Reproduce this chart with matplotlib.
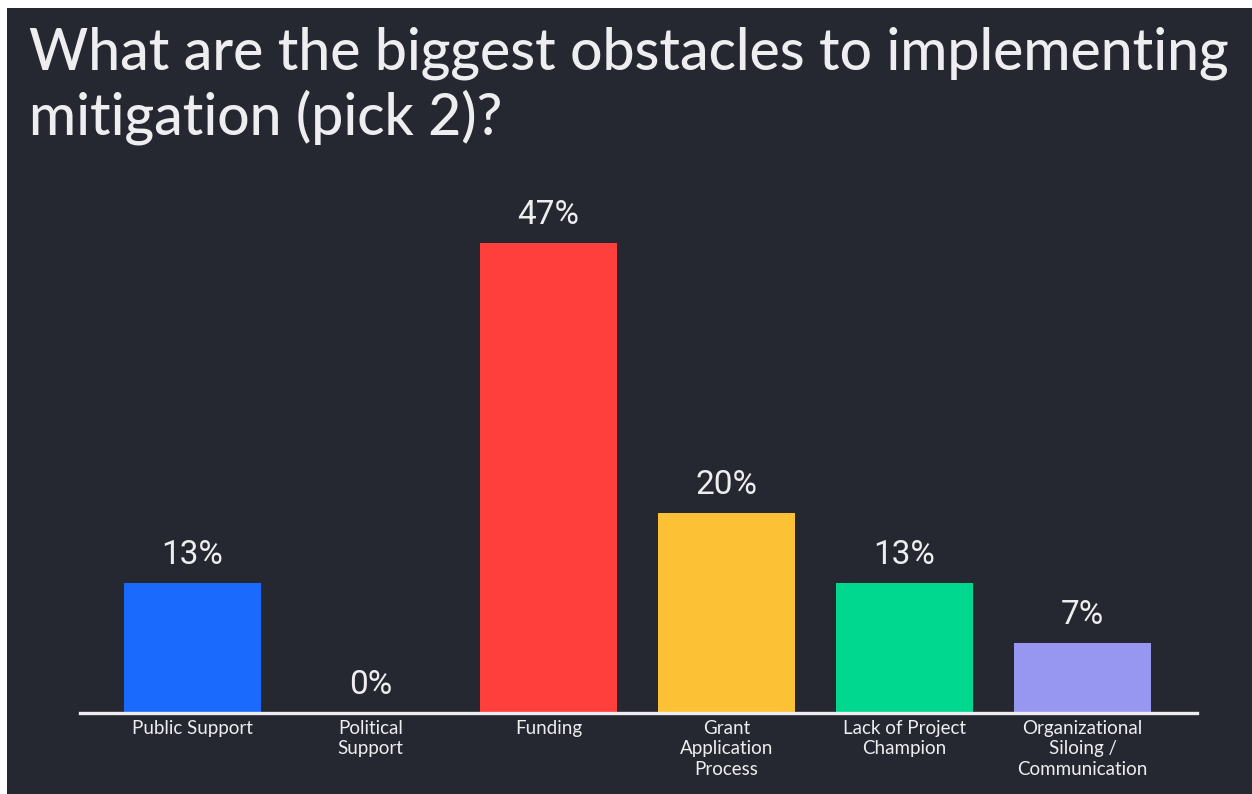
import matplotlib.pyplot as plt
from matplotlib.patches import Rectangle

categories = ["Public Support", "Political\nSupport", "Funding",
              "Grant\nApplication\nProcess", "Lack of Project\nChampion",
              "Organizational\nSiloing /\nCommunication"]
shares = [13, 0, 47, 20, 13, 7]
bar_colors = ["#1a6afe", "#1a6afe", "#ff3f3b", "#fdc136", "#00d78f", "#9797f2"]

title = "What are the biggest obstacles to implementing\nmitigation (pick 2)?"

bg = "#252831"
fg = "#eeeef0"

W, H = 1252, 794
fig = plt.figure(figsize=(W / 100, H / 100), dpi=100)
fig.patch.set_facecolor("white")
# dark slide background, with a thin white strip left and top
fig.patches.append(Rectangle((7 / W, 0), 1, 1 - 8 / H, transform=fig.transFigure,
                             facecolor=bg, edgecolor="none", zorder=-10))

fig.text(29 / W, 1 - 27 / H, title, color=fg, fontsize=41, family="Lato",
         fontweight="medium", va="top", ha="left", linespacing=1.2)

ax = fig.add_axes([80 / W, (H - 713) / H, (1197 - 80) / W, 500 / H])
ax.set_facecolor("none")
x = list(range(len(shares)))
ax.bar(x, shares, width=0.77, color=bar_colors)
for xi, v in zip(x, shares):
    ax.text(xi, v + 1.2, f"{v}%", ha="center", va="bottom", color=fg,
            fontsize=24, family="Roboto")

ax.set_xlim(-0.632, 5.643)
ax.set_ylim(0, 50)
for side in ["top", "left", "right"]:
    ax.spines[side].set_visible(False)
ax.spines["bottom"].set_color(fg)
ax.spines["bottom"].set_linewidth(2.4)
ax.set_yticks([])
ax.set_xticks(x)
ax.set_xticklabels(categories, color=fg, fontsize=13.5, family="Lato",
                   linespacing=1.25)
ax.tick_params(axis="x", length=0, pad=5)

fig.savefig("out.png", dpi=100, facecolor=fig.get_facecolor())
